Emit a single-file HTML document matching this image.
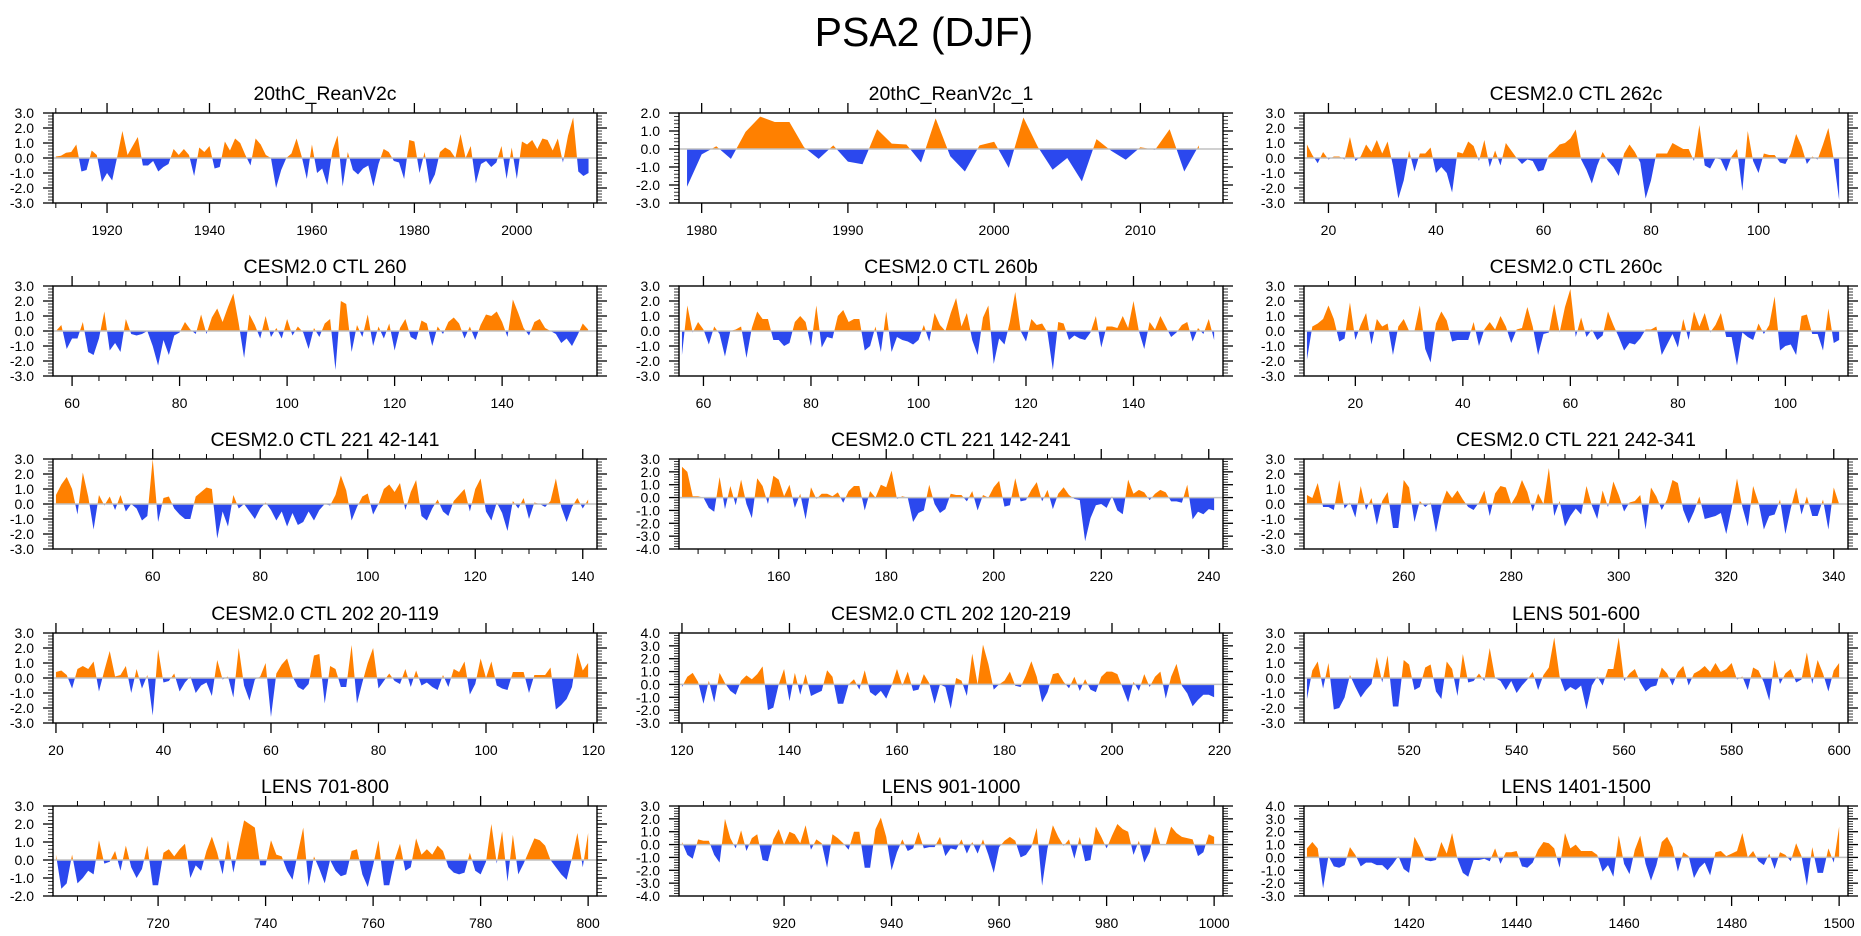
<!DOCTYPE html>
<html><head><meta charset="utf-8">
<style>
html,body{margin:0;padding:0;background:#fff;}
svg{display:block;font-family:"Liberation Sans",sans-serif;}
</style></head>
<body>
<svg id="fig" width="1861" height="936" viewBox="0 0 1861 936" xmlns="http://www.w3.org/2000/svg">
<rect width="1861" height="936" fill="#fff"/>
<text x="924" y="46" font-size="41" text-anchor="middle" fill="#000">PSA2 (DJF)</text>
</svg>
<script>
const titles = ["20thC_ReanV2c","20thC_ReanV2c_1","CESM2.0 CTL 262c","CESM2.0 CTL 260","CESM2.0 CTL 260b","CESM2.0 CTL 260c","CESM2.0 CTL 221 42-141","CESM2.0 CTL 221 142-241","CESM2.0 CTL 221 242-341","CESM2.0 CTL 202 20-119","CESM2.0 CTL 202 120-219","LENS 501-600","LENS 701-800","LENS 901-1000","LENS 1401-1500"];
const startYears = [1910,1979,16,57,56,11,42,142,242,20,120,501,701,901,1401];
const yMins = [-3,-3,-3,-3,-3,-3,-3,-4,-3,-3,-3,-3,-2,-4,-3];
const yMaxs = [3,2,3,3,3,3,3,3,3,3,4,3,3,3,4];
const majorSteps = [20,10,20,20,20,20,20,20,20,20,20,20,20,20,20];
const minorSteps = [5,2,5,5,5,5,5,5,5,5,5,5,5,5,5];

const s1 = [0.1,0.15,0.35,0.4,0.9,-0.9,-0.8,0.5,0.2,-1.6,-1.0,-1.5,0.1,1.8,0.2,0.8,1.4,-0.5,-0.5,-0.2,-0.9,-0.6,-0.4,0.6,0.2,0.6,0.2,-1.2,0.7,0.4,0.8,-0.7,-0.6,1.1,0.5,1.3,1.0,0.2,-0.5,1.3,0.9,0.2,0.0,-2.0,-0.8,0.0,0.3,1.3,0.1,-1.4,0.9,-1.0,-0.7,-1.8,0.5,1.5,-1.9,0.4,-0.8,-1.1,-0.7,-0.5,-1.9,-0.4,0.6,0.4,-0.2,-0.3,-1.4,1.2,1.1,-1.0,0.4,-1.8,-1.1,0.4,0.7,0.5,0.0,1.6,0.0,0.8,-1.7,-0.4,-0.2,-0.6,-0.3,0.8,-1.4,0.7,-1.4,1.1,0.9,1.2,0.6,1.3,1.2,0.5,1.3,-0.3,1.5,2.7,-0.9,-1.2,-1.0];
const s2 = [-2.1,-0.3,0.15,-0.55,0.95,1.8,1.5,1.5,0.1,-0.55,0.2,-0.7,-0.85,1.1,0.3,0.25,-0.75,1.7,-0.4,-1.25,0.2,0.4,-1.05,1.75,0.1,-1.15,-0.5,-1.8,0.55,-0.1,-0.6,0.1,-0.05,1.1,-1.25,0.2];
const s3 = [0.9,0.2,-0.35,0.4,-0.1,0.1,0.1,-0.1,1.4,-0.2,0.1,0.9,0.4,1.2,0.3,1.1,-0.5,-2.7,-1.5,0.5,-0.9,0.3,0.3,0.7,-1.0,-0.6,-1.0,-2.3,0.4,0.3,1.1,0.8,-0.2,1.2,-0.6,0.5,-0.5,1.0,0.5,0.0,-0.4,-0.1,-0.2,-0.9,-0.8,0.2,0.5,0.9,1.0,1.3,1.9,-0.1,-0.8,-1.7,-0.5,0.4,-0.2,-0.6,-1.2,0.3,0.9,0.4,-0.3,-2.7,-1.5,0.3,0.3,0.3,1.0,0.8,0.6,0.6,-0.2,2.2,-0.5,-0.7,0.0,-0.1,-0.9,0.1,0.6,-2.2,1.8,-0.2,-1.0,0.3,0.2,0.2,-0.3,-0.4,0.3,1.6,0.8,-0.4,0.1,-0.1,0.9,2.0,-0.1,-2.8];
const s4 = [0.0,0.4,-1.2,-0.5,-0.5,0.6,-1.4,-1.6,-0.5,1.3,-1.3,-0.8,-1.4,0.8,-0.2,-0.3,-0.2,0.0,-1.0,-2.3,-0.6,-1.6,-0.3,-0.1,0.6,0.1,-0.2,1.1,-0.2,0.9,1.5,0.6,1.6,2.5,0.5,-1.8,1.1,0.4,-0.5,1.0,-0.4,0.2,-0.5,0.8,-0.3,0.3,-0.1,-1.2,0.2,-0.4,0.5,0.8,-2.6,2.0,1.8,-1.4,0.4,-0.4,1.1,-1.0,0.3,-0.5,0.5,-1.3,0.2,0.8,-0.4,-0.6,0.7,0.5,-1.0,0.3,-0.2,0.6,0.9,0.5,-0.5,0.3,-0.6,0.4,1.1,1.0,1.3,0.6,-0.4,2.1,1.2,0.2,-0.3,0.6,0.8,0.2,0.0,-0.2,-0.8,-0.5,-1.0,-0.3,0.5,0.1];
const s5 = [-1.6,1.7,-0.1,0.6,0.1,-0.9,0.3,-0.2,-1.7,0.0,0.1,0.3,-1.8,0.2,1.3,0.8,0.8,-0.6,-0.6,-1.0,-0.8,0.6,1.0,0.6,-1.0,1.7,-1.1,-0.4,-0.5,1.0,1.4,0.6,0.8,0.8,-1.3,-1.0,0.3,-1.4,1.3,-1.4,-0.4,-0.6,-0.7,-0.9,-0.6,0.4,-0.7,1.2,0.4,0.0,1.2,2.2,0.3,1.2,-0.6,-1.6,0.9,1.7,-2.2,-0.5,-0.9,0.6,2.6,0.0,-0.7,0.8,0.4,0.5,-0.1,-2.6,0.6,0.5,-0.6,-0.3,-0.5,-0.6,-0.1,1.0,-1.1,0.3,0.3,0.2,1.0,0.2,2.0,0.0,-1.2,0.6,0.1,1.0,0.3,-0.4,-0.1,0.4,0.6,-0.7,0.2,-0.2,0.8,-0.6];
const s6 = [-1.9,0.3,0.5,0.8,1.7,0.8,-0.7,-0.5,1.9,-0.6,0.4,1.2,-0.9,0.8,0.3,0.5,-1.6,0.3,0.8,0.0,0.0,1.7,-1.2,-2.1,0.5,1.3,0.7,-0.7,-0.6,-0.6,-0.6,0.6,-1.0,0.1,0.6,0.1,1.0,0.3,-0.8,0.1,0.2,1.6,0.3,-1.6,-0.2,-0.1,1.8,-0.1,1.6,2.8,-0.4,0.9,-0.4,0.1,-0.6,-0.3,1.3,0.4,-0.4,-1.3,-0.8,-0.9,-0.5,0.1,0.1,0.3,-1.6,-0.9,-0.2,-1.1,0.8,-0.6,1.3,0.3,1.2,-0.1,0.4,1.2,-0.4,-0.4,-2.3,-0.1,-0.4,-0.6,0.5,-0.2,0.4,2.3,-1.3,-1.0,-0.9,-1.6,1.0,1.1,-0.2,-0.2,-1.3,1.5,-0.8,-0.6];
const s7 = [0.6,1.3,1.8,1.0,-0.7,2.1,0.5,-1.7,0.6,-0.1,0.5,-0.4,0.6,-0.5,0.0,-0.3,-1.1,-0.8,3.0,-1.2,0.4,0.5,-0.3,-0.7,-1.0,-1.0,0.5,0.8,1.1,1.0,-2.3,-0.5,-1.5,0.6,-0.3,0.0,-0.5,-1.0,-0.3,0.1,-0.4,-1.1,-0.5,-1.5,-0.6,-1.4,-1.2,-0.5,-1.1,-0.4,0.0,-0.1,0.6,1.9,0.9,-1.1,-0.2,0.5,0.7,-0.7,0.0,1.0,1.3,0.8,1.4,-0.4,0.8,1.6,-0.8,-1.1,-0.3,0.3,-0.5,-0.8,0.2,0.6,1.0,-0.5,1.0,1.7,-0.5,-1.1,0.1,-0.6,-1.8,0.2,-0.3,0.4,-1.0,0.1,0.0,-0.2,0.2,1.7,-0.2,-1.2,-0.2,0.4,-0.3,0.3];
const s8 = [2.4,2.0,0.1,0.1,0.0,-0.8,-1.1,1.6,-0.9,0.9,-0.6,1.4,-0.5,-1.6,1.5,0.9,-0.5,1.7,1.4,0.1,1.0,-0.8,0.3,-1.7,0.8,-0.1,0.3,0.3,0.1,0.4,-0.4,0.5,0.9,0.9,-1.0,0.5,0.0,1.0,0.8,2.1,-0.1,0.1,0.0,-1.9,-1.2,-1.0,1.0,-0.5,-1.2,-0.9,0.3,0.2,0.2,-0.3,0.5,-1.0,0.2,0.0,0.8,1.3,-0.7,-0.6,1.5,-0.3,-0.2,0.6,1.2,-0.3,0.6,-0.9,0.3,0.8,0.2,-0.1,-0.2,-3.4,-1.6,-0.6,-0.5,-0.8,0.1,-1.0,-1.3,1.4,0.3,0.6,0.4,-0.2,0.3,0.6,0.4,-0.3,-0.3,-0.4,1.0,-1.7,-1.1,-1.3,-0.9,-1.0];
const s9 = [0.6,0.4,1.4,-0.2,-0.2,-0.4,1.6,-0.3,0.1,-0.9,1.2,-0.4,0.4,-1.4,0.2,0.8,-1.6,-1.6,1.6,1.1,-1.2,0.2,-0.2,0.1,-1.9,-0.1,0.9,0.4,0.9,0.3,-0.2,-0.4,0.1,0.9,-0.8,0.7,1.2,1.1,0.0,0.6,1.6,0.8,-0.5,0.7,0.0,2.4,-0.8,0.2,-1.5,-0.8,-0.3,-0.7,1.2,-0.1,-1.0,0.9,-0.2,1.5,0.6,-0.5,0.1,0.2,0.6,-1.7,1.1,0.5,-0.4,0.3,1.6,1.4,-0.4,-1.3,-0.5,0.5,-1.0,-0.9,-0.8,-0.6,-2.0,-0.3,1.7,-0.2,-1.5,1.2,0.1,-1.7,-0.8,-0.7,0.3,-2.0,-0.3,1.1,-0.7,0.5,-0.8,-0.8,0.3,-1.7,1.1,0.0];
const s10 = [0.4,0.5,0.2,-0.7,0.6,0.8,0.6,1.1,-0.9,0.5,1.8,0.1,0.2,0.8,-1.0,0.6,-0.7,0.2,-2.5,1.9,-0.3,-0.2,0.3,-0.9,-0.3,0.1,-1.0,-0.5,-0.3,-1.2,1.2,-0.1,0.1,-1.3,2.0,-0.5,-1.5,-0.1,0.1,1.0,-2.6,0.3,0.9,1.3,0.1,-0.6,-0.8,-0.4,1.5,1.6,-1.7,0.8,0.6,-0.6,-0.6,2.2,-1.7,-0.3,1.0,2.0,-0.7,-0.2,0.3,-0.2,-0.4,0.6,-0.6,0.5,-0.5,-0.3,-0.6,-0.8,0.2,-0.6,0.6,0.4,1.1,-1.1,-0.4,1.3,0.0,1.1,-0.5,-0.7,-0.8,0.4,0.4,0.4,-1.0,0.2,0.2,0.2,0.7,-2.1,-1.8,-1.4,-0.6,1.7,0.5,1.0];
const s11 = [-0.2,0.6,0.9,0.2,-1.5,0.3,-1.4,0.9,0.1,-0.5,-0.8,0.3,0.7,0.4,0.8,1.4,-2.0,-1.8,0.0,1.2,-1.3,0.9,-0.8,0.8,-0.9,-0.7,-0.5,1.1,0.6,-1.5,-1.5,0.0,0.4,-0.4,1.1,-0.6,-0.9,-0.5,-1.1,-0.1,1.2,-0.1,1.0,-0.5,-0.4,0.8,0.1,-1.5,0.0,-0.2,-1.9,0.5,0.3,-0.9,2.4,0.0,3.1,1.6,-0.4,0.0,0.3,1.0,-0.1,-0.2,0.7,1.8,0.6,-1.4,-0.6,0.8,0.9,0.2,-0.3,0.6,-0.5,0.4,-0.4,-0.6,0.6,1.0,1.0,0.8,-0.3,-1.4,0.2,-0.5,0.8,-0.2,0.6,1.0,-1.1,0.6,1.6,-0.1,-0.7,-1.7,-1.2,-0.8,-0.8,-1.0];
const s12 = [-1.4,0.5,1.1,-0.7,1.0,-2.1,-2.0,-1.3,0.2,-0.6,-1.3,-0.8,-0.4,1.4,-0.3,1.5,-1.9,-1.9,1.2,0.9,-0.8,-0.6,0.7,0.9,-0.9,-1.4,1.1,0.6,-1.2,1.6,-0.3,-0.2,0.3,-0.2,2.0,0.0,-0.2,-0.8,-0.2,-1.0,-0.5,-0.1,0.4,-0.8,0.2,0.7,2.7,0.1,-0.9,-0.6,-0.8,-0.5,-2.1,-0.5,0.1,-0.5,0.6,0.6,2.7,-0.2,0.3,0.6,-0.3,-0.9,-0.6,-0.5,0.7,0.3,-0.5,0.4,0.8,-0.5,0.3,0.5,0.8,0.4,1.0,0.4,0.6,1.0,-0.1,0.1,-0.8,0.7,0.5,-0.3,-1.5,1.2,-0.4,0.3,0.6,-0.3,-0.1,1.7,-0.4,1.2,0.3,-0.9,0.5,1.0];
const s13 = [0.3,-1.6,-1.3,0.3,-1.3,-1.0,-0.6,-0.8,1.1,-0.2,-0.1,0.5,-0.6,0.8,-0.4,-1.0,-0.5,0.8,-1.4,-1.4,0.4,0.6,0.2,0.6,0.9,-1.0,-0.3,-0.6,0.5,1.3,0.4,-0.8,1.1,-0.7,0.8,2.2,2.0,1.8,-0.3,-0.3,1.1,0.3,0.2,-0.6,-1.1,0.4,1.8,-1.4,0.2,-0.5,-1.3,0.0,-0.6,-0.9,-0.8,0.5,0.6,-0.8,-1.5,-0.3,1.1,-1.4,-1.4,0.0,0.9,-0.6,-0.4,1.2,0.3,0.6,0.3,0.8,0.5,-0.4,-0.7,-0.8,-0.7,0.4,-0.6,-0.8,-0.1,2.0,-0.2,1.6,-1.2,1.4,-0.8,-0.2,0.5,1.2,1.1,0.8,0.0,-0.4,-0.8,-1.1,0.1,1.5,-0.4,1.5];
const s14 = [0.2,-0.8,-1.1,0.4,0.3,0.3,-0.8,-1.4,2.0,0.5,-0.3,1.1,-0.5,0.5,0.8,-1.2,-1.3,0.4,1.2,0.0,1.0,0.8,0.1,1.5,-0.4,0.4,0.1,-1.8,0.8,0.5,0.1,-0.4,1.0,1.0,-1.8,-1.8,1.2,2.1,0.6,-2.0,-0.6,0.4,-0.5,-0.3,1.0,-0.3,-0.2,-0.2,0.6,-0.9,-0.3,-0.4,0.4,-0.7,0.2,-0.7,0.4,-0.8,-2.2,-0.2,0.3,0.6,0.3,-1.0,-0.8,-0.2,1.3,-3.2,-0.3,1.5,0.6,-0.1,0.4,-1.1,0.6,-1.3,-1.2,1.4,0.6,-0.3,0.7,1.6,1.2,1.0,-0.8,0.3,-1.4,-0.6,1.4,0.0,0.0,1.4,0.9,0.6,0.5,0.4,-0.9,-0.6,0.8,0.6];
const s15 = [0.7,1.2,0.7,-2.4,0.1,-0.7,-0.8,-0.6,0.8,0.2,-0.7,-0.4,-0.4,-0.6,-0.6,-1.0,-0.5,0.1,-0.9,-1.2,1.6,0.8,-0.2,-0.3,-0.2,1.2,0.3,1.9,-0.1,-1.2,-1.5,-0.2,-0.2,-0.1,-0.3,0.7,-0.5,0.4,0.4,0.5,-0.7,-0.8,-0.4,0.6,1.2,1.1,0.7,-0.8,1.9,0.7,1.0,0.5,0.5,0.5,0.2,-1.1,-0.6,-1.5,1.7,-0.5,-1.3,0.6,1.7,-0.5,-1.8,-0.6,1.2,1.6,0.8,-1.1,0.4,0.1,-1.6,-0.8,-0.4,-1.4,0.4,0.5,0.1,0.3,0.5,1.9,0.0,0.5,-0.3,-0.6,0.3,-0.9,0.4,0.2,-0.3,1.1,0.1,-2.2,0.8,-1.2,-1.2,0.7,-0.4,2.4];
const seriesList = [s1,s2,s3,s4,s5,s6,s7,s8,s9,s10,s11,s12,s13,s14,s15];

const NS = "http://www.w3.org/2000/svg";
const svg = document.getElementById('fig');
const colLeft = [53, 679, 1304];
const rowTop = [113, 286, 459, 633, 806];
const PW = 544, PH = 90;
const ORANGE = "#ff8000", BLUE = "#2b48ee";

function mk(tag, attrs, parent) {
  const e = document.createElementNS(NS, tag);
  for (const k in attrs) e.setAttribute(k, attrs[k]);
  (parent || svg).appendChild(e);
  return e;
}
function fmt(v){ return v.toFixed(1); }

seriesList.forEach((vals, p) => {
  const L = colLeft[p % 3], T = rowTop[Math.floor(p / 3)];
  const first = startYears[p], last = first + vals.length - 1;
  const xmin = first - 0.55, xmax = last + 1.65;
  const ymin = yMins[p], ymax = yMaxs[p];
  const X = v => L + (v - xmin) / (xmax - xmin) * PW;
  const Y = v => T + (ymax - v) / (ymax - ymin) * PH;
  const g = mk('g', {});
  
  

  // build points with zero crossings
  const pts = [];
  for (let i = 0; i < vals.length; i++) {
    const x = first + i, v = vals[i];
    if (i > 0) {
      const pv = vals[i - 1];
      if ((pv > 0 && v < 0) || (pv < 0 && v > 0)) {
        const t = pv / (pv - v);
        pts.push([x - 1 + t, 0]);
      }
    }
    pts.push([x, v]);
  }
  const x0 = pts[0][0], x1 = pts[pts.length - 1][0];
  let pos = `M${X(x0)},${Y(0)} ` + pts.map(q => `L${X(q[0]).toFixed(2)},${Y(Math.max(q[1], 0)).toFixed(2)}`).join(' ') + ` L${X(x1)},${Y(0)} Z`;
  let neg = `M${X(x0)},${Y(0)} ` + pts.map(q => `L${X(q[0]).toFixed(2)},${Y(Math.min(q[1], 0)).toFixed(2)}`).join(' ') + ` L${X(x1)},${Y(0)} Z`;
  const pf = mk('path', {d: pos, fill: ORANGE, stroke: 'none'}, g);
  
  
  const nf = mk('path', {d: neg, fill: BLUE, stroke: 'none'}, g);
  
  
  const zl = mk('line', {x1: L, x2: L + PW, y1: Y(0), y2: Y(0), stroke: '#c0c0c0', 'stroke-width': 1.5}, g);
  
  

  // frame
  const fr = mk('rect', {x: L, y: T, width: PW, height: PH, fill: 'none', stroke: '#000', 'stroke-width': 1.4}, g);
  
  

  // x ticks
  const ms = minorSteps[p], MS = majorSteps[p];
  for (let v = Math.ceil(xmin / ms) * ms; v <= xmax; v += ms) {
    const major = v % MS === 0;
    const len = major ? 10 : 5;
    const x = X(v);
    mk('line', {x1: x, x2: x, y1: T, y2: T - len, stroke: '#000', 'stroke-width': major ? 1.3 : 1}, g);
    mk('line', {x1: x, x2: x, y1: T + PH, y2: T + PH + len, stroke: '#000', 'stroke-width': major ? 1.3 : 1}, g);
    if (major) {
      const tl = mk('text', {x: x, y: T + PH + 32, 'font-size': 14, 'text-anchor': 'middle', fill: '#000'}, g);
      tl.textContent = String(v);
      
      
    }
  }
  // y ticks
  for (let k = Math.round(ymin * 5); k <= Math.round(ymax * 5); k++) {
    const v = k / 5, major = k % 5 === 0;
    const len = major ? 10 : 5, y = Y(v);
    mk('line', {x1: L, x2: L - len, y1: y, y2: y, stroke: '#000', 'stroke-width': major ? 1.3 : 0.8}, g);
    mk('line', {x1: L + PW, x2: L + PW + len, y1: y, y2: y, stroke: '#000', 'stroke-width': major ? 1.3 : 0.8}, g);
    if (major) {
      const yl = mk('text', {x: L - 19, y: y + 5, 'font-size': 14, 'text-anchor': 'end', fill: '#000'}, g);
      yl.textContent = fmt(v);
      
      
    }
  }
  const tt = mk('text', {x: L + PW / 2, y: T - 13, 'font-size': 19.5, 'text-anchor': 'middle', fill: '#000'}, g);
  tt.textContent = titles[p];
  
  
});
</script>
</body></html>
